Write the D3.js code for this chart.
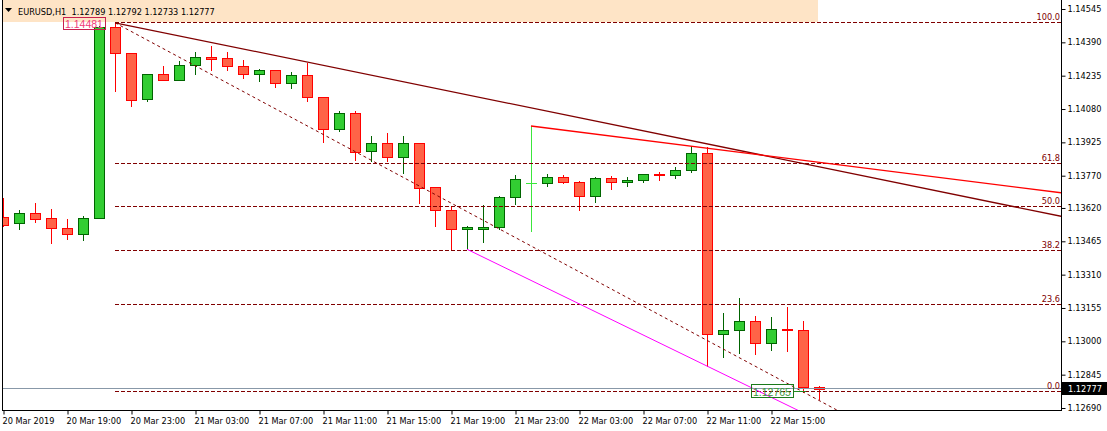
<!DOCTYPE html>
<html><head><meta charset="utf-8">
<script src="https://cdn.jsdelivr.net/npm/d3@7"></script>
<style>body{margin:0;background:#fff;}svg{display:block;font-family:"DejaVu Sans",sans-serif;}</style>
</head><body><svg id="c" width="1107" height="431"></svg>
<script>
// ---------- DATA ----------
const symbol = "EURUSD,H1";
const opens  = [1.13579,1.13549,1.13595,1.13572,1.13526,1.13498,1.13572,1.14460,1.14339,1.14128,1.14241,1.14214,1.14283,1.14320,1.14316,1.14279,1.14241,1.14260,1.14200,1.14237,1.14135,1.13986,1.14060,1.13883,1.13921,1.13856,1.13921,1.13716,1.13609,1.13521,1.13524,1.13530,1.13670,1.13736,1.13735,1.13763,1.13739,1.13674,1.13758,1.13739,1.13749,1.13777,1.13772,1.13795,1.13874,1.13033,1.13051,1.13093,1.12991,1.13056,1.13051,1.12789];
const highs  = [1.13666,1.13611,1.13645,1.13615,1.13569,1.13583,1.14468,1.14481,1.14339,1.14241,1.14280,1.14305,1.14344,1.14372,1.14344,1.14307,1.14266,1.14260,1.14251,1.14293,1.14135,1.14069,1.14069,1.13955,1.13967,1.13955,1.13921,1.13716,1.13626,1.13536,1.13634,1.13676,1.13773,1.14001,1.13778,1.13773,1.13745,1.13763,1.13767,1.13763,1.13777,1.13787,1.13811,1.13906,1.13902,1.13132,1.13201,1.13118,1.13113,1.13160,1.13095,1.12792];
const lows   = [1.13536,1.13524,1.13556,1.13459,1.13477,1.13473,1.13572,1.14165,1.14095,1.14119,1.14214,1.14214,1.14244,1.14263,1.14263,1.14226,1.14212,1.14184,1.14179,1.14119,1.13928,1.13979,1.13843,1.13840,1.13840,1.13784,1.13645,1.13538,1.13429,1.13428,1.13462,1.13521,1.13640,1.13514,1.13724,1.13735,1.13612,1.13649,1.13710,1.13724,1.13739,1.13751,1.13761,1.13789,1.12885,1.12929,1.12947,1.12940,1.12961,1.12954,1.12765,1.12733];
const closes = [1.13542,1.13597,1.13567,1.13526,1.13498,1.13572,1.14460,1.14339,1.14121,1.14241,1.14214,1.14285,1.14320,1.14314,1.14279,1.14241,1.14260,1.14200,1.14237,1.14135,1.13986,1.14060,1.13882,1.13921,1.13856,1.13921,1.13711,1.13609,1.13521,1.13532,1.13532,1.13670,1.13753,1.13736,1.13763,1.13739,1.13674,1.13758,1.13739,1.13749,1.13777,1.13772,1.13795,1.13874,1.13033,1.13051,1.13093,1.12991,1.13056,1.13051,1.12789,1.12777];

const timeTickBars   = [0,4,8,12,16,20,24,28,32,36,40,44,48];
const timeTickLabels = ["20 Mar 2019","20 Mar 19:00","20 Mar 23:00","21 Mar 03:00","21 Mar 07:00","21 Mar 11:00","21 Mar 15:00","21 Mar 19:00","21 Mar 23:00","22 Mar 03:00","22 Mar 07:00","22 Mar 11:00","22 Mar 15:00"];
const priceTicks = [1.14545,1.14390,1.14235,1.14080,1.13925,1.13770,1.13620,1.13465,1.13310,1.13155,1.13000,1.12845,1.12690];

// Fibonacci retracement anchors: [bar, price]
const fibStart = [7, 1.14481];
const fibEnd   = [50, 1.12765];
const fibLevels = [100.0, 61.8, 50.0, 38.2, 23.6, 0.0];

// Trend lines: [bar1, price1, bar2, price2]
const maroonLine  = [7, 1.14481, 44, 1.13918];
const redLine     = [33, 1.14001, 44, 1.13898];
const magentaLine = [29, 1.13428, 44, 1.12885];

const bidPrice = 1.12777;
const highLabel = "1.14481";
const lowLabel  = "1.12765";

// ---------- LAYOUT ----------
const W = 1107, H = 431;
const plotL = 2, plotR = 1061, plotT = 0, plotB = 410;
const x = d3.scaleLinear().domain([0, 51]).range([3, 819]);
const y = d3.scaleLinear().domain([1.12690, 1.14545]).range([408, 9]);

const svg = d3.select("#c");
svg.append("rect").attr("width", W).attr("height", H).attr("fill", "#fff");

svg.append("defs").append("clipPath").attr("id", "plot")
  .append("rect").attr("x", plotL).attr("y", plotT).attr("width", plotR - plotL).attr("height", plotB - plotT);

const plot = svg.append("g").attr("clip-path", "url(#plot)");

// header band
plot.append("rect").attr("x", 0).attr("y", 0).attr("width", 818).attr("height", 22).attr("fill", "#fee4c6");

const crisp = v => Math.round(v) + 0.5;

// ---------- CANDLES ----------
const GREEN_F = "#32cd32", GREEN_S = "#006400", RED_F = "#ff6347", RED_S = "#ff0000", DOJI = "#3ce63c";
const cg = plot.append("g");
opens.forEach((o, i) => {
  const c = closes[i], h = highs[i], l = lows[i];
  const cx = Math.round(x(i));
  const up = c > o, doji = c === o;
  const stroke = doji ? DOJI : (up ? GREEN_S : RED_S);
  const fill = up ? GREEN_F : RED_F;
  cg.append("line").attr("x1", cx + 0.5).attr("x2", cx + 0.5)
    .attr("y1", Math.round(y(h))).attr("y2", Math.round(y(l)) + 1)
    .attr("stroke", stroke).attr("stroke-width", 1);
  const yt = Math.round(y(Math.max(o, c))), yb = Math.round(y(Math.min(o, c)));
  if (doji) {
    cg.append("line").attr("x1", cx - 5).attr("x2", cx + 6).attr("y1", yt + 0.5).attr("y2", yt + 0.5)
      .attr("stroke", stroke).attr("stroke-width", 1);
  } else {
    cg.append("rect").attr("x", cx - 4.5).attr("y", yt + 0.5).attr("width", 10).attr("height", Math.max(yb - yt, 1))
      .attr("fill", fill).attr("stroke", stroke).attr("stroke-width", 1);
  }
});

// ---------- OBJECTS ----------
const og = plot.append("g");
function ray(seg, color, width, dash) {
  const [b1, p1, b2, p2] = seg;
  const x1 = x(b1), y1 = y(p1), x2 = x(b2), y2 = y(p2);
  const k = (y2 - y1) / (x2 - x1);
  const xe = plotR + 20, ye = y1 + k * (xe - x1);
  const l = og.append("line").attr("x1", x1).attr("y1", y1).attr("x2", xe).attr("y2", ye)
    .attr("stroke", color).attr("stroke-width", width);
  if (dash) l.attr("stroke-dasharray", dash);
}

// Fibonacci levels
const FIB = "#800000";
fibLevels.forEach(lv => {
  const p = fibEnd[1] + (fibStart[1] - fibEnd[1]) * lv / 100;
  const yy = crisp(y(p)) - 1;
  og.append("line").attr("x1", x(fibStart[0])).attr("x2", plotR).attr("y1", yy).attr("y2", yy)
    .attr("stroke", FIB).attr("stroke-width", 1).attr("stroke-dasharray", "4,2");
  svg.append("text").attr("x", plotR - 1).attr("y", yy - 3).attr("text-anchor", "end")
    .attr("font-size", "8.2px").attr("fill", FIB).text(lv.toFixed(1));
});
// Fibonacci diagonal
ray([fibStart[0], fibStart[1], fibEnd[0], fibEnd[1]], FIB, 1, "3,3");

ray(maroonLine, "#800000", 1.3);
ray(redLine, "#ff0000", 1.3);
ray(magentaLine, "#ff00ff", 1);

// bid line
const yb = crisp(y(bidPrice)) - 1;
og.append("line").attr("x1", plotL).attr("x2", plotR).attr("y1", yb).attr("y2", yb)
  .attr("stroke", "#8898a8").attr("stroke-width", 1);

// price labels of objects
const hl = svg.append("g");
hl.append("rect").attr("x", 63.5).attr("y", 17.5).attr("width", 42).attr("height", 12)
  .attr("fill", "none").attr("stroke", "#c8204e").attr("stroke-width", 1);
hl.append("text").attr("x", 65).attr("y", 28).attr("font-size", "10.5px").attr("font-family", "Liberation Sans")
  .attr("fill", "#f03a78").text(highLabel);

const ly = y(fibEnd[1]);
hl.append("line").attr("x1", 794).attr("x2", x(fibEnd[0]) + 3).attr("y1", crisp(ly) - 1).attr("y2", crisp(ly) - 1)
  .attr("stroke", "#1f8a1f").attr("stroke-width", 1);
hl.append("rect").attr("x", 751.5).attr("y", 384.5).attr("width", 42).attr("height", 13)
  .attr("fill", "none").attr("stroke", "#1a7a1a").attr("stroke-width", 1);
hl.append("text").attr("x", 753).attr("y", 395.5).attr("font-size", "10.5px").attr("font-family", "Liberation Sans")
  .attr("fill", "#3a9a3a").text(lowLabel);

// ---------- HEADER TEXT ----------
svg.append("path").attr("d", "M5,8 L12,8 L8.5,12 Z").attr("fill", "#000");
const last = opens.length - 1;
svg.append("text").attr("x", 18).attr("y", 14.5).attr("font-size", "8.2px").attr("fill", "#000")
  .attr("xml:space", "preserve")
  .text(`${symbol}  ${opens[last].toFixed(5)} ${highs[last].toFixed(5)} ${lows[last].toFixed(5)} ${closes[last].toFixed(5)}`);

// ---------- AXES ----------
const ay = svg.append("g").attr("transform", `translate(${plotR + 0.5},0)`)
  .call(d3.axisRight(y).tickValues(priceTicks).tickSize(4).tickPadding(2).tickFormat(d => d.toFixed(5)));
ay.select(".domain").remove();
ay.selectAll("line").attr("stroke", "#000");
ay.selectAll("text").attr("font-size", "8.2px").attr("font-family", "DejaVu Sans").attr("fill", "#000");

const ax = svg.append("g").attr("transform", `translate(0,${plotB + 0.5})`)
  .call(d3.axisBottom(x).tickValues(timeTickBars).tickSize(4).tickPadding(4)
    .tickFormat((d, i) => timeTickLabels[i]));
ax.select(".domain").remove();
ax.selectAll(".tick line").attr("stroke", "#000").attr("transform", "translate(0.5,0)");
ax.selectAll("text").attr("text-anchor", "start").attr("dx", "-1")
  .attr("font-size", "8.2px").attr("font-family", "DejaVu Sans").attr("fill", "#000");

// frame
svg.append("line").attr("x1", plotL + 0.5).attr("x2", plotL + 0.5).attr("y1", 0).attr("y2", plotB + 1).attr("stroke", "#000");
svg.append("line").attr("x1", plotR + 0.5).attr("x2", plotR + 0.5).attr("y1", 0).attr("y2", plotB + 1).attr("stroke", "#000");
svg.append("line").attr("x1", plotL).attr("x2", plotR + 1).attr("y1", plotB + 0.5).attr("y2", plotB + 0.5).attr("stroke", "#000");

// current price tag
const bl = svg.append("g");
bl.append("rect").attr("x", plotR + 1).attr("y", Math.round(y(bidPrice)) - 7).attr("width", W - plotR - 1).attr("height", 13).attr("fill", "#000");
bl.append("text").attr("x", plotR + 7).attr("y", Math.round(y(bidPrice)) + 3).attr("font-size", "8.2px").attr("fill", "#fff").text(bidPrice.toFixed(5));
</script></body></html>
